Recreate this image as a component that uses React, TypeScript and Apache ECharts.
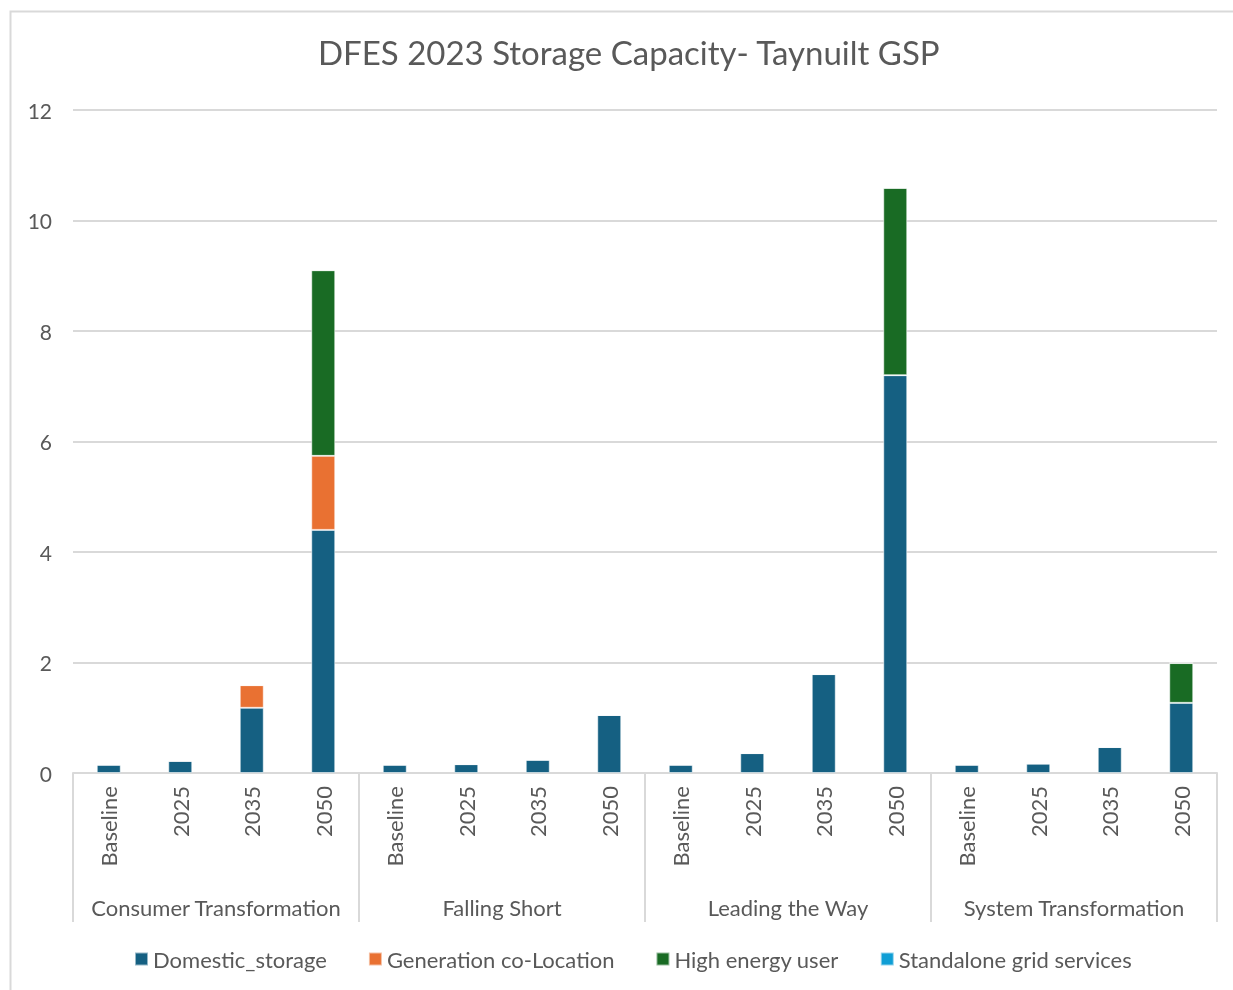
import React, { useEffect, useRef } from "react";
import * as echarts from "echarts";

const groups = ["Consumer Transformation", "Falling Short", "Leading the Way", "System Transformation"];
const years = ["Baseline", "2025", "2035", "2050"];
const categories = groups.flatMap(() => years);

const domesticStorage = [0.15, 0.22, 1.18, 4.4, 0.15, 0.16, 0.24, 1.05, 0.15, 0.36, 1.79, 7.2, 0.15, 0.17, 0.47, 1.27];
const generationCoLocation = [0, 0, 0.41, 1.34, 0, 0, 0, 0, 0, 0, 0, 0, 0, 0, 0, 0];
const highEnergyUser = [0, 0, 0, 3.36, 0, 0, 0, 0, 0, 0, 0, 3.39, 0, 0, 0, 0.72];
const standaloneGridServices = [0, 0, 0, 0, 0, 0, 0, 0, 0, 0, 0, 0, 0, 0, 0, 0];

const yTicks = { min: 0, max: 12, interval: 2 };

export default function App() {
  const ref = useRef<HTMLDivElement>(null);
  useEffect(() => {
    const chart = echarts.init(ref.current!, null, { renderer: "svg" });
    const font = "Lato, 'Noto Sans', sans-serif";
    const txt = "#595959";
    const grey = "#d9d9d9";
    const mk = (name: string, data: number[], color: string) => ({
      name,
      type: "bar",
      stack: "total",
      data,
      barWidth: 24,
      itemStyle: { color, borderColor: "rgba(255,255,255,0.55)", borderWidth: 1 },
    });
    chart.setOption({
      animation: false,
      textStyle: { fontFamily: font },
      title: {
        text: "DFES 2023 Storage Capacity- Taynuilt GSP",
        left: 313,
        top: 30,
        textStyle: { fontFamily: font, fontSize: 33, fontWeight: "normal", color: txt },
      },
      graphic: [
        {
          type: "rect",
          shape: { x: 10.5, y: 11.5, width: 1240, height: 1000 },
          style: { fill: "none", stroke: grey, lineWidth: 2 },
          silent: true,
        },
      ],
      legend: {
        bottom: 15,
        left: 129,
        itemWidth: 13,
        itemHeight: 13,
        itemGap: 41,
        icon: "rect",
        textStyle: { fontFamily: font, fontSize: 22, color: txt, padding: [0, 0, 0, 0] },
        data: ["Domestic_storage", "Generation co-Location", "High energy user", "Standalone grid services"],
      },
      grid: { left: 73, right: 16, top: 110, bottom: 217, containLabel: false },
      xAxis: [
        {
          type: "category",
          data: categories,
          position: "bottom",
          axisLine: { show: true, lineStyle: { color: grey, width: 2 } },
          axisTick: { show: false },
          axisLabel: { rotate: 90, margin: 13, interval: 0, fontSize: 22, color: txt, fontFamily: font },
        },
        {
          type: "category",
          data: groups,
          position: "bottom",
          axisLine: { show: false },
          axisTick: { show: true, interval: 0, length: 149, lineStyle: { color: grey, width: 2 } },
          axisLabel: { margin: 123, interval: 0, fontSize: 22, color: txt, fontFamily: font },
        },
      ],
      yAxis: {
        type: "value",
        min: yTicks.min,
        max: yTicks.max,
        interval: yTicks.interval,
        axisLine: { show: false },
        axisTick: { show: false },
        axisLabel: { fontSize: 21, color: txt, margin: 21, fontFamily: font },
        splitLine: { lineStyle: { color: grey, width: 2 } },
      },
      series: [
        mk("Domestic_storage", domesticStorage, "#156082"),
        mk("Generation co-Location", generationCoLocation, "#E97132"),
        mk("High energy user", highEnergyUser, "#196B24"),
        mk("Standalone grid services", standaloneGridServices, "#0F9ED5"),
      ],
    });
    return () => chart.dispose();
  }, []);
  return <div ref={ref} style={{ position: "fixed", left: 0, top: 0, width: 1233, height: 990 }} />;
}
